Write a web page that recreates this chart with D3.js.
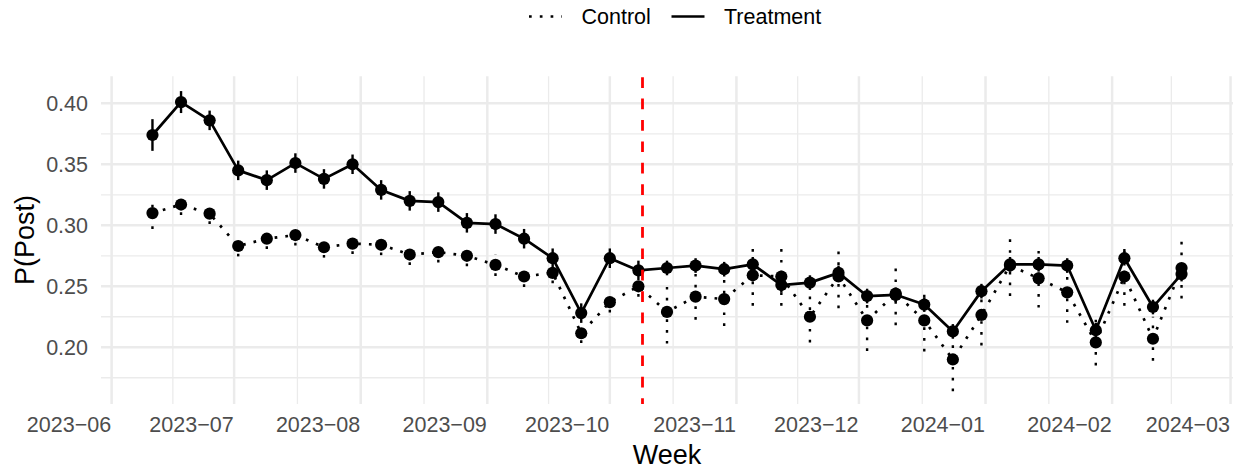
<!DOCTYPE html>
<html>
<head>
<meta charset="utf-8">
<script src="https://cdn.jsdelivr.net/npm/d3@7"></script>
<style>
  html, body { margin: 0; padding: 0; background: #ffffff; }
  svg { display: block; }
  text { font-family: "Liberation Sans", Arial, Helvetica, sans-serif; }
</style>
</head>
<body>
<svg id="chart" width="1242" height="470"></svg>
<script>
// Weekly observation dates
const weeks = [
  "2023-06-11", "2023-06-18", "2023-06-25",
  "2023-07-02", "2023-07-09", "2023-07-16", "2023-07-23", "2023-07-30",
  "2023-08-06", "2023-08-13", "2023-08-20", "2023-08-27",
  "2023-09-03", "2023-09-10", "2023-09-17", "2023-09-24",
  "2023-10-01", "2023-10-08", "2023-10-15", "2023-10-22", "2023-10-29",
  "2023-11-05", "2023-11-12", "2023-11-19", "2023-11-26",
  "2023-12-03", "2023-12-10", "2023-12-17", "2023-12-24", "2023-12-31",
  "2024-01-07", "2024-01-14", "2024-01-21", "2024-01-28",
  "2024-02-04", "2024-02-11", "2024-02-18"
];

// Estimated probability of posting, treatment group
const treatment = [
  0.374, 0.401, 0.386, 0.345, 0.337, 0.351, 0.338, 0.350, 0.329, 0.320,
  0.319, 0.302, 0.301, 0.289, 0.273, 0.228, 0.273, 0.263, 0.265, 0.267,
  0.264, 0.268, 0.251, 0.253, 0.261, 0.242, 0.243, 0.235, 0.213, 0.246,
  0.268, 0.268, 0.267, 0.214, 0.273, 0.233, 0.260
];
// Half-width of the treatment interval
const treatmentErr = [
  0.013, 0.009, 0.008, 0.008, 0.008, 0.008, 0.008, 0.008, 0.008, 0.008,
  0.008, 0.008, 0.008, 0.008, 0.008, 0.008, 0.008, 0.008, 0.006, 0.006,
  0.006, 0.006, 0.006, 0.006, 0.006, 0.006, 0.006, 0.006, 0.006, 0.006,
  0.006, 0.006, 0.006, 0.006, 0.006, 0.006, 0.006
];

// Estimated probability of posting, control group
const control = [
  0.310, 0.317, 0.3095, 0.283, 0.289, 0.292, 0.282, 0.285, 0.284, 0.276,
  0.278, 0.275, 0.2675, 0.258, 0.261, 0.2115, 0.237, 0.250, 0.229, 0.2415,
  0.2395, 0.259, 0.258, 0.225, 0.258, 0.222, 0.244, 0.222, 0.190, 0.2265,
  0.267, 0.2565, 0.245, 0.204, 0.258, 0.207, 0.265
];
// Half-width of the control interval
const controlErr = [
  0.013, 0.0085, 0.0085, 0.0085, 0.0085, 0.0085, 0.0085, 0.0085, 0.0085, 0.0085,
  0.0085, 0.0085, 0.009, 0.0085, 0.0085, 0.008, 0.0085, 0.0085, 0.026, 0.019,
  0.022, 0.025, 0.024, 0.021, 0.026, 0.025, 0.026, 0.0255, 0.026, 0.025,
  0.025, 0.024, 0.025, 0.019, 0.024, 0.018, 0.025
];

// Intervention date marker
const interventionDate = "2023-10-09";

// Y axis breaks
const yMajor = [0.20, 0.25, 0.30, 0.35, 0.40];
const yMinor = [0.175, 0.225, 0.275, 0.325, 0.375];
const yDomain = [0.1535, 0.4222];

const seriesNames = ["Control", "Treatment"];

// ---------------------------------------------------------------
const svg = d3.select("#chart");
const panel = { left: 101, right: 1233, top: 76.2, bottom: 404 };

const parse = d3.utcParse("%Y-%m-%d");
const dates = weeks.map(parse);
const first = dates[0], last = dates[dates.length - 1];
const span = last - first;

const x = d3.scaleUtc()
  .domain([new Date(+first - 0.05 * span), new Date(+last + 0.05 * span)])
  .range([panel.left, panel.right]);
const y = d3.scaleLinear().domain(yDomain).range([panel.bottom, panel.top]);

const xMajor = d3.utcMonth.range(d3.utcMonth.ceil(x.domain()[0]), x.domain()[1]);
const xMinor = [];
for (let i = 0; i < xMajor.length - 1; i++) {
  xMinor.push(new Date((+xMajor[i] + +xMajor[i + 1]) / 2));
}

const grid = svg.append("g").attr("stroke", "#EBEBEB").attr("fill", "none");
// minor grid
grid.selectAll("line.ymin").data(yMinor).join("line")
  .attr("x1", panel.left).attr("x2", panel.right)
  .attr("y1", d => y(d)).attr("y2", d => y(d))
  .attr("stroke-width", 1.3);
grid.selectAll("line.xmin").data(xMinor).join("line")
  .attr("y1", panel.top).attr("y2", panel.bottom)
  .attr("x1", d => x(d)).attr("x2", d => x(d))
  .attr("stroke-width", 1.3);
// major grid
grid.selectAll("line.ymaj").data(yMajor).join("line")
  .attr("x1", panel.left).attr("x2", panel.right)
  .attr("y1", d => y(d)).attr("y2", d => y(d))
  .attr("stroke-width", 2.5);
grid.selectAll("line.xmaj").data(xMajor).join("line")
  .attr("y1", panel.top).attr("y2", panel.bottom)
  .attr("x1", d => x(d)).attr("x2", d => x(d))
  .attr("stroke-width", 2.5);

// axes (labels only, as in a minimal theme)
const yAxis = d3.axisLeft(y).tickValues(yMajor).tickFormat(d3.format(".2f")).tickSize(0).tickPadding(13);
const gy = svg.append("g").attr("transform", `translate(${panel.left},0)`).call(yAxis);
gy.select(".domain").remove();
gy.selectAll("text").attr("fill", "#4D4D4D").attr("font-size", "21.5px")
  .attr("font-family", "Liberation Sans, Arial, sans-serif");

const fmtMonth = d3.utcFormat("%Y-%m");
const xAxis = d3.axisBottom(x).tickValues(xMajor)
  .tickFormat(d => fmtMonth(d).replace("-", "\u2212")).tickSize(0).tickPadding(0);
const gx = svg.append("g").attr("transform", `translate(0,${panel.bottom})`).call(xAxis);
gx.select(".domain").remove();
gx.selectAll("text").attr("fill", "#4D4D4D").attr("font-size", "21.5px")
  .attr("font-family", "Liberation Sans, Arial, sans-serif")
  .attr("text-anchor", "end").attr("dy", null).attr("y", 28).attr("x", -1);

// axis titles
svg.append("text").attr("x", (panel.left + panel.right) / 2).attr("y", 463.5)
  .attr("text-anchor", "middle").attr("font-size", "27px").attr("fill", "#000")
  .text("Week");
svg.append("text")
  .attr("transform", `translate(33.5,${(panel.top + panel.bottom) / 2}) rotate(-90)`)
  .attr("text-anchor", "middle").attr("font-size", "27px").attr("fill", "#000")
  .text("P(Post)");

// series
const LW = 2.7;
const dotted = `${LW},${LW * 3}`;
const series = [
  { name: seriesNames[0], values: control, err: controlErr, dash: dotted },
  { name: seriesNames[1], values: treatment, err: treatmentErr, dash: null }
];

const line = d3.line().x(d => x(d.date)).y(d => y(d.value));

series.forEach(s => {
  const pts = dates.map((d, i) => ({ date: d, value: s.values[i], lo: s.values[i] - s.err[i], hi: s.values[i] + s.err[i] }));
  const g = svg.append("g");
  g.append("path").datum(pts)
    .attr("d", line).attr("fill", "none").attr("stroke", "#000")
    .attr("stroke-width", LW).attr("stroke-linejoin", "round")
    .attr("stroke-dasharray", s.dash);
  g.selectAll("line.err").data(pts).join("line")
    .attr("x1", d => x(d.date)).attr("x2", d => x(d.date))
    .attr("y1", d => y(d.lo)).attr("y2", d => y(d.hi))
    .attr("stroke", "#000").attr("stroke-width", 2.4)
    .attr("stroke-dasharray", s.dash);
  g.selectAll("circle").data(pts).join("circle")
    .attr("cx", d => x(d.date)).attr("cy", d => y(d.value)).attr("r", 6.1)
    .attr("fill", "#000");
});

// intervention marker
const vx = x(parse(interventionDate));
svg.append("line")
  .attr("x1", vx).attr("x2", vx).attr("y1", panel.top + 1).attr("y2", panel.bottom)
  .attr("stroke", "#FF0000").attr("stroke-width", 2.8)
  .attr("stroke-dasharray", "10.7,10.7");

// legend
const legend = svg.append("g");
const legendItems = [
  { name: seriesNames[0], dash: dotted, x0: 529, tx: 581.5 },
  { name: seriesNames[1], dash: null, x0: 671.5, tx: 724 }
];
legendItems.forEach(it => {
  legend.append("line").attr("x1", it.x0).attr("x2", it.x0 + 33)
    .attr("y1", 16.5).attr("y2", 16.5)
    .attr("stroke", "#000").attr("stroke-width", LW)
    .attr("stroke-dasharray", it.dash);
  legend.append("text").attr("x", it.tx).attr("y", 24.3)
    .attr("font-size", "21.5px").attr("fill", "#000").text(it.name);
});
</script>
</body>
</html>
